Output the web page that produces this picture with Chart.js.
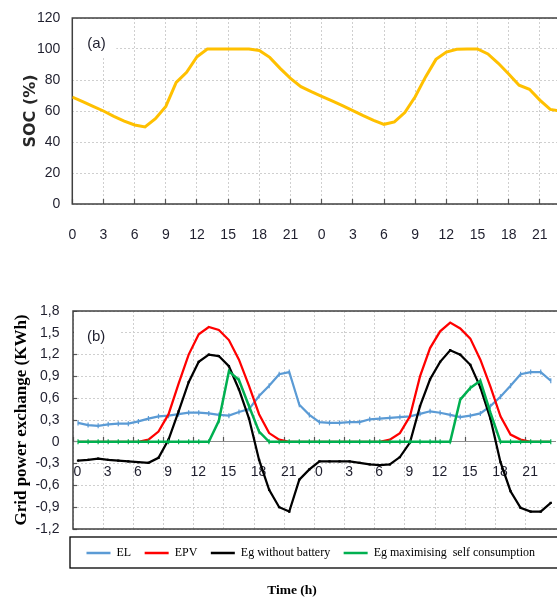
<!DOCTYPE html>
<html><head><meta charset="utf-8">
<script src="https://cdn.jsdelivr.net/npm/chart.js@4.4.1/dist/chart.umd.min.js"></script>
<style>
html,body{margin:0;padding:0;background:#fff;overflow:hidden;width:557px;height:597px;}
#wrap{position:relative;width:557px;height:597px;overflow:hidden;}
#c1{position:absolute;left:0;top:0;}
#c2{position:absolute;left:0;top:250px;}
</style></head><body>
<div id="wrap">
<canvas id="c1" width="557" height="250"></canvas>
<canvas id="c2" width="561" height="347"></canvas>
</div>
<script>
// ---------- data ----------
const hours = [0,1,2,3,4,5,6,7,8,9,10,11,12,13,14,15,16,17,18,19,20,21,22,23,
               24,25,26,27,28,29,30,31,32,33,34,35,36,37,38,39,40,41,42,43,44,45,46,47];
const hourTicks = [0,3,6,9,12,15,18,21,24,27,30,33,36,39,42,45];

const socTicks = [0,20,40,60,80,100,120];
const socValues = [69,66,63,60,56.5,53.5,51,49.7,55,63,78.5,85,95,100,100,100,100,100,99,94.6,87.5,81,75.7,72.5,
                   69.5,66.5,63.5,60.3,57,54,51.4,53,59,69.2,82,93.3,98,99.8,100,100,96.8,90.8,83.9,76.6,74,67,61,60];

const energyTicks = [-1.2,-0.9,-0.6,-0.3,0,0.3,0.6,0.9,1.2,1.5,1.8];
const elValues = [0.26,0.23,0.22,0.24,0.25,0.25,0.28,0.32,0.35,0.36,0.38,0.40,0.40,0.39,0.37,0.36,0.41,0.45,0.63,0.77,0.93,0.96,0.51,0.37,
                  0.27,0.26,0.26,0.27,0.27,0.31,0.32,0.33,0.34,0.35,0.385,0.42,0.40,0.37,0.34,0.36,0.39,0.49,0.62,0.77,0.93,0.96,0.96,0.84];
const epvValues = [0,0,0,0,0,0,0,0.03,0.14,0.38,0.8,1.2,1.48,1.58,1.54,1.40,1.13,0.77,0.38,0.12,0.03,0,0,0,
                   0,0,0,0,0,0,0,0.03,0.12,0.35,0.9,1.29,1.52,1.64,1.56,1.42,1.13,0.76,0.35,0.1,0.03,0,0,0];
const egNoBattery = [-0.26,-0.25,-0.23,-0.25,-0.26,-0.27,-0.28,-0.29,-0.22,0.03,0.42,0.82,1.1,1.2,1.18,1.04,0.72,0.32,-0.25,-0.66,-0.9,-0.96,-0.52,-0.38,
                     -0.27,-0.27,-0.27,-0.27,-0.29,-0.31,-0.32,-0.31,-0.21,-0.01,0.49,0.86,1.1,1.26,1.2,1.06,0.75,0.32,-0.28,-0.68,-0.91,-0.96,-0.96,-0.84];
const egSelfConsumption = [0,0,0,0,0,0,0,0,0,0,0,0,0,0,0.29,0.97,0.85,0.49,0.14,0,0,0,0,0,
                           0,0,0,0,0,0,0,0,0,0,0,0,0,0,0.58,0.74,0.84,0.40,0,0,0,0,0,0];
const seriesNames = ['EL','EPV','Eg without battery','Eg maximising  self consumption'];

// ---------- style ----------
const GRID = '#cfcfcf';
const TICK_COLOR = '#1f1f2e';
const FRAME = '#404040';
const yTickFont = {family:"'Liberation Sans',sans-serif", size:14, lineHeight:0.8};
const xTickFontTop = {family:"'Liberation Sans',sans-serif", size:14, lineHeight:'72px'};
const xTickFontBottom = {family:"'Liberation Sans',sans-serif", size:14, lineHeight:'70px'};

const pts = (vals) => hours.map((h,i)=>({x:h, y:vals[i]}));
const fmtComma = v => v === 0 ? '0' : v.toFixed(1).replace('.', ',');

function framePlugin(o){
  return {
    id: 'frame',
    beforeDatasetsDraw(chart){
      const ctx = chart.ctx, a = chart.chartArea;
      ctx.save();
      ctx.fillStyle = '#fff';
      ctx.fillRect(a.left+1, a.top+1, o.boxW, o.boxH);
      ctx.fillStyle = TICK_COLOR;
      ctx.font = "15px 'Liberation Sans',sans-serif";
      ctx.textBaseline = 'middle';
      ctx.textAlign = 'left';
      ctx.fillText(o.label, a.left + o.lx, a.top + o.ly);
      ctx.strokeStyle = FRAME;
      ctx.lineWidth = 1.5;
      ctx.beginPath();
      ctx.moveTo(a.right + 5, a.top);
      ctx.lineTo(a.left, a.top);
      ctx.lineTo(a.left, a.bottom);
      ctx.lineTo(a.right + 5, a.bottom);
      ctx.stroke();
      ctx.restore();
    }
  };
}

const legendBoxPlugin = {
  id: 'legendBox',
  afterDraw(chart){
    const lg = chart.legend;
    if (!lg) return;
    const lo = lg.options;
    const th = 1.2 + 3.3;
    const cy = lg.top + lo.labels.padding + th + lo.labels.font.size/2;
    const ctx = chart.ctx;
    ctx.save();
    ctx.strokeStyle = '#000';
    ctx.lineWidth = 1.3;
    ctx.strokeRect(lg.left - 3, cy - 16, chart.width + 20, 31);
    ctx.restore();
  }
};

// ---------- chart (a) ----------
new Chart(document.getElementById('c1'), {
  type: 'line',
  data: { datasets: [{
    label: 'SOC', data: pts(socValues), borderColor: '#FFC000', borderWidth: 3,
    pointRadius: 0, tension: 0, fill: false
  }]},
  options: {
    responsive: false, animation: false, events: [],
    layout: {padding: {top: 18, left: 0, right: 0, bottom: 0}},
    plugins: {legend: {display: false}, tooltip: {enabled: false}},
    scales: {
      x: {
        type: 'linear', min: 0, max: 46.65,
        afterBuildTicks: s => { s.ticks = hourTicks.map(v => ({value: v})); },
        afterFit: s => { s.height = 46; },
        grid: {color: GRID, lineWidth: 1, tickLength: -5, tickColor: '#595959', tickWidth: 1.2},
        border: {display: false, dash: [2,2]},
        ticks: {padding: 0, color: TICK_COLOR, font: xTickFontTop, autoSkip: false, maxRotation: 0,
                callback: v => String(Math.round(v) % 24)}
      },
      y: {
        min: 0, max: 120,
        afterBuildTicks: s => { s.ticks = socTicks.map(v => ({value: v})); },
        afterFit: s => { s.width = 72.3; },
        grid: {color: GRID, lineWidth: 1, drawTicks: false},
        border: {display: false, dash: [2,2]},
        ticks: {padding: 12, color: TICK_COLOR, font: yTickFont, callback: v => String(v)},
        title: {display: true, text: 'SOC (%)', color: '#262626',
                font: {family: "'DejaVu Sans',sans-serif", weight: 'bold', size: 16},
                padding: {top: 21.4, bottom: 0}}
      }
    }
  },
  plugins: [framePlugin({label: '(a)', boxW: 43, boxH: 39, lx: 15, ly: 26})]
});

// ---------- chart (b) ----------
new Chart(document.getElementById('c2'), {
  type: 'line',
  data: { datasets: [
    {label: seriesNames[0], data: pts(elValues), borderColor: '#5B9BD5', backgroundColor: '#5B9BD5',
     borderWidth: 2.25, pointStyle: 'line', pointRotation: 90, pointRadius: 2.5, pointBorderWidth: 1.2,
     pointBorderColor: '#5B9BD5', tension: 0, order: 3},
    {label: seriesNames[1], data: pts(epvValues), borderColor: '#FF0000', backgroundColor: '#FF0000',
     borderWidth: 2.25, pointRadius: 0, tension: 0, order: 2},
    {label: seriesNames[2], data: pts(egNoBattery), borderColor: '#000000', backgroundColor: '#000000',
     borderWidth: 2.25, pointStyle: 'rect', pointRadius: 1.6, pointBorderWidth: 0, pointBackgroundColor: '#000',
     tension: 0, order: 1},
    {label: seriesNames[3], data: pts(egSelfConsumption), borderColor: '#00B050', backgroundColor: '#00B050',
     borderWidth: 2.5, pointStyle: 'line', pointRotation: 90, pointRadius: 2.5, pointBorderWidth: 1.2,
     pointBorderColor: '#00B050', tension: 0, order: 0}
  ]},
  options: {
    responsive: false, animation: false, events: [],
    layout: {padding: {top: 61, left: 23, right: 0, bottom: 0}},
    plugins: {
      tooltip: {enabled: false},
      legend: {
        display: true, position: 'bottom', align: 'start', fullSize: false,
        title: {display: true, text: '', font: {size: 1}, padding: {top: 3.3, bottom: 0}},
        labels: {
          usePointStyle: true, pointStyle: 'line', pointStyleWidth: 24, padding: 13.5,
          color: '#000', font: {family: "'Liberation Serif',serif", size: 12},
          sort: (a, b) => a.datasetIndex - b.datasetIndex,
          generateLabels: c => Chart.defaults.plugins.legend.labels.generateLabels(c)
            .map(l => Object.assign(l, {
              rotation: 0, pointStyle: 'line', lineWidth: 2.5,
              strokeStyle: c.data.datasets[l.datasetIndex].borderColor
            }))
        }
      },
      title: {
        display: true, text: 'Time (h)', position: 'bottom', color: '#000',
        font: {family: "'Liberation Serif',serif", weight: 'bold', size: 13.5, lineHeight: 1},
        padding: {top: 14.5, bottom: 0}
      }
    },
    scales: {
      x: {
        type: 'linear', position: {y: 0}, min: -0.5, max: 47.5,
        afterBuildTicks: s => { s.ticks = hourTicks.map(h => ({value: h - 0.5})); },
        grid: {color: GRID, lineWidth: 1, tickLength: -5, tickColor: '#595959', tickWidth: 1.2},
        border: {display: true, color: '#8c8c8c', width: 1, dash: [2,2]},
        ticks: {padding: 0, labelOffset: 4.5, color: TICK_COLOR, font: xTickFontBottom, autoSkip: false, maxRotation: 0,
                callback: v => String(Math.round(v + 0.5) % 24)}
      },
      y: {
        min: -1.2, max: 1.8,
        afterBuildTicks: s => { s.ticks = energyTicks.map(v => ({value: v})); },
        afterFit: s => { s.width = 50; },
        grid: {color: GRID, lineWidth: 1, tickLength: -4, tickColor: '#595959', tickWidth: 1.2},
        border: {display: false, dash: [2,2]},
        ticks: {padding: 17.5, color: TICK_COLOR, font: yTickFont, callback: v => fmtComma(v)},
        title: {display: true, text: 'Grid power exchange (KWh)', color: '#000',
                font: {family: "'Liberation Serif',serif", weight: 'bold', size: 17},
                padding: {top: -11.2, bottom: 0}}
      }
    }
  },
  plugins: [framePlugin({label: '(b)', boxW: 47, boxH: 35, lx: 14, ly: 26}), legendBoxPlugin]
});
</script>
</body></html>
